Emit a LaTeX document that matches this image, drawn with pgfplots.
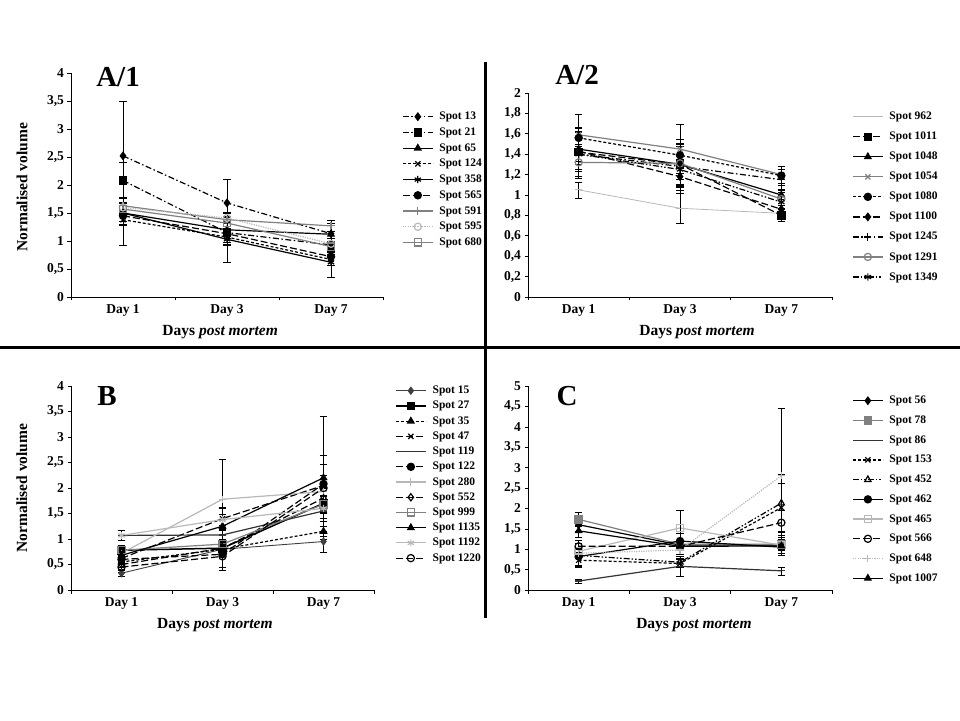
\documentclass[border=0pt]{standalone}
\usepackage{fontspec}
\setmainfont{Liberation Serif}
\usepackage{pgfplots}
\pgfplotsset{compat=1.18}

\definecolor{midgray}{gray}{0.5}
\definecolor{ltgray}{gray}{0.72}

\tikzset{
  ls dd/.style={dash pattern=on 6pt off 2.5pt on 1.5pt off 2.5pt},
  ls ddd/.style={dash pattern=on 6pt off 2pt on 1.5pt off 2pt on 1.5pt off 2pt},
  ls long/.style={dash pattern=on 7pt off 3pt},
  ls short/.style={dash pattern=on 3pt off 2pt},
  ls dot/.style={dash pattern=on 1.2pt off 1.2pt},
}

\pgfplotsset{
  panel/.style={
    scale only axis,
    axis lines=left,
    axis line style={-, black},
    xmin=0.5, xmax=3.5, ymin=0,
    xtick={0.5,1.5,2.5,3.5}, xticklabels={},
    extra x ticks={1,2,3},
    extra x tick labels={Day 1,Day 3,Day 7},
    extra x tick style={major tick length=0pt, grid=none, xticklabel style={yshift=-4pt}},
    tick align=outside,
    major tick length=3.5pt,
    tick style={black, line width=0.6pt},
    ticklabel style={font=\bfseries\fontsize{13.5}{13.5}\selectfont},
    /pgf/number format/assume math mode=true,
    yticklabel style={/pgf/number format/.cd, fixed, precision=1, use comma},
    label style={font=\bfseries\fontsize{15.5}{16}\selectfont},
    xlabel={Days \textit{post mortem}},
    legend cell align=left,
    legend style={draw=none, fill=none, inner sep=0pt, anchor=north west,
      font=\bfseries\fontsize{11.5}{11.5}\selectfont,
      /tikz/every odd column/.append style={column sep=4pt}},
    legend image code/.code={\draw[mark repeat=2,mark phase=2] plot coordinates {(0pt,0pt) (15pt,0pt) (30pt,0pt)};},
    every axis plot/.append style={line width=1.2pt, mark size=3.6pt, mark options={solid},
      error bars/y dir=both, error bars/y explicit,
      error bars/error bar style={black, solid, line width=0.9pt},
      error bars/error mark options={black, solid, mark size=3.8pt, rotate=90}},
  },
}

\begin{document}
\begin{tikzpicture}
\useasboundingbox (0pt,0pt) rectangle (960pt,720pt);

% ---------------- A/1
\begin{axis}[panel, at={(71pt,423pt)}, anchor=south west, width=312pt, height=224pt,
  ymax=4, ytick={0,0.5,1,1.5,2,2.5,3,3.5,4},
  ylabel={Normalised volume},
  ylabel style={at={(axis description cs:-0.157,0.49)}, anchor=center},
  xlabel style={at={(axis description cs:0.478,-0.156)}, anchor=center},
  legend style={at={(1.061,0.835)}, row sep=2.6pt}]
\addplot[black, ls dd, mark=diamond*] coordinates {(1,2.52) +- (0,0.98) (2,1.68) +- (0,0.42) (3,1.13) +- (0,0.16)};
\addlegendentry{Spot 13}
\addplot[black, ls dd, mark=square*] coordinates {(1,2.08) +- (0,0.32) (2,1.15) +- (0,0.20) (3,0.93) +- (0,0.12)};
\addlegendentry{Spot 21}
\addplot[black, mark=triangle*] coordinates {(1,1.50) +- (0,0.20) (2,1.20) +- (0,0.15) (3,1.12) +- (0,0.20)};
\addlegendentry{Spot 65}
\addplot[black, ls short, mark=x] coordinates {(1,1.38) +- (0,0.10) (2,1.07) +- (0,0.10) (3,0.67) +- (0,0.10)};
\addlegendentry{Spot 124}
\addplot[black, mark=asterisk] coordinates {(1,1.50) +- (0,0.57) (2,1.03) +- (0,0.41) (3,0.62) +- (0,0.27)};
\addlegendentry{Spot 358}
\addplot[black, ls long, mark=*] coordinates {(1,1.45) +- (0,0.10) (2,1.13) +- (0,0.20) (3,0.72) +- (0,0.15)};
\addlegendentry{Spot 565}
\addplot[midgray, mark=+] coordinates {(1,1.63) +- (0,0.15) (2,1.38) +- (0,0.12) (3,1.27) +- (0,0.10)};
\addlegendentry{Spot 591}
\addplot[ltgray, ls dot, mark=o] coordinates {(1,1.60) +- (0,0.10) (2,1.41) +- (0,0.10) (3,0.95) +- (0,0.10)};
\addlegendentry{Spot 595}
\addplot[midgray, mark=square] coordinates {(1,1.57) +- (0,0.10) (2,1.32) +- (0,0.10) (3,0.90) +- (0,0.10)};
\addlegendentry{Spot 680}
\end{axis}

% ---------------- A/2
\begin{axis}[panel, at={(528pt,423pt)}, anchor=south west, width=304pt, height=204pt,
  ymax=2, ytick={0,0.2,0.4,0.6,0.8,1,1.2,1.4,1.6,1.8,2},
  xlabel style={at={(axis description cs:0.556,-0.172)}, anchor=center},
  legend style={at={(1.066,0.917)}, row sep=6.9pt}]
\addplot[ltgray, line width=0.8pt, mark=-] coordinates {(1,1.05) +- (0,0.08) (2,0.87) +- (0,0.15) (3,0.82) +- (0,0.05)};
\addlegendentry{Spot 962}
\addplot[black, ls long, mark=square*] coordinates {(1,1.42) +- (0,0.24) (2,1.30) +- (0,0.25) (3,0.80) +- (0,0.06)};
\addlegendentry{Spot 1011}
\addplot[black, mark=triangle*] coordinates {(1,1.45) +- (0,0.20) (2,1.30) +- (0,0.20) (3,1.00) +- (0,0.10)};
\addlegendentry{Spot 1048}
\addplot[midgray, mark=x] coordinates {(1,1.59) +- (0,0.20) (2,1.45) +- (0,0.24) (3,1.20) +- (0,0.08)};
\addlegendentry{Spot 1054}
\addplot[black, ls short, mark=*] coordinates {(1,1.56) +- (0,0.23) (2,1.39) +- (0,0.30) (3,1.19) +- (0,0.09)};
\addlegendentry{Spot 1080}
\addplot[black, ls long, mark=diamond*] coordinates {(1,1.43) +- (0,0.20) (2,1.18) +- (0,0.16) (3,0.86) +- (0,0.10)};
\addlegendentry{Spot 1100}
\addplot[black, ls dd, mark=+] coordinates {(1,1.40) +- (0,0.22) (2,1.28) +- (0,0.20) (3,1.15) +- (0,0.10)};
\addlegendentry{Spot 1245}
\addplot[midgray, mark=o] coordinates {(1,1.32) +- (0,0.16) (2,1.31) +- (0,0.20) (3,0.96) +- (0,0.10)};
\addlegendentry{Spot 1291}
\addplot[black, ls ddd, mark=asterisk] coordinates {(1,1.40) +- (0,0.10) (2,1.25) +- (0,0.10) (3,0.93) +- (0,0.10)};
\addlegendentry{Spot 1349}
\end{axis}

% ---------------- B
\begin{axis}[panel, at={(71pt,130pt)}, anchor=south west, width=303pt, height=204pt,
  ymax=4, ytick={0,0.5,1,1.5,2,2.5,3,3.5,4},
  ylabel={Normalised volume},
  ylabel style={at={(axis description cs:-0.162,0.5)}, anchor=center},
  xlabel style={at={(axis description cs:0.475,-0.172)}, anchor=center},
  legend style={at={(1.069,1.01)}, row sep=2.1pt}]
\addplot[black!75, line width=0.9pt, mark=diamond*] coordinates {(1,0.33) +- (0,0.06) (2,0.80) +- (0,0.42) (3,0.95) +- (0,0.20)};
\addlegendentry{Spot 15}
\addplot[black, line width=1.5pt, mark=square*] coordinates {(1,0.78) +- (0,0.10) (2,0.82) +- (0,0.10) (3,1.70) +- (0,0.30)};
\addlegendentry{Spot 27}
\addplot[black, ls short, mark=triangle*] coordinates {(1,0.55) +- (0,0.10) (2,0.80) +- (0,0.10) (3,1.15) +- (0,0.10)};
\addlegendentry{Spot 35}
\addplot[black, ls long, mark=x] coordinates {(1,0.62) +- (0,0.10) (2,1.40) +- (0,0.20) (3,2.05) +- (0,0.20)};
\addlegendentry{Spot 47}
\addplot[black!80, mark=-] coordinates {(1,1.07) +- (0,0.10) (2,1.08) +- (0,0.10) (3,1.55) +- (0,0.20)};
\addlegendentry{Spot 119}
\addplot[black, ls long, mark=*] coordinates {(1,0.60) +- (0,0.10) (2,0.70) +- (0,0.25) (3,2.08) +- (0,0.57)};
\addlegendentry{Spot 122}
\addplot[ltgray, mark=+] coordinates {(1,0.72) +- (0,0.10) (2,1.78) +- (0,0.79) (3,1.93) +- (0,0.10)};
\addlegendentry{Spot 280}
\addplot[black, ls long, mark=diamond] coordinates {(1,0.50) +- (0,0.10) (2,0.82) +- (0,0.10) (3,1.80) +- (0,0.20)};
\addlegendentry{Spot 552}
\addplot[midgray, mark=square] coordinates {(1,0.78) +- (0,0.10) (2,0.90) +- (0,0.10) (3,1.68) +- (0,0.10)};
\addlegendentry{Spot 999}
\addplot[black, mark=triangle*] coordinates {(1,0.68) +- (0,0.10) (2,1.25) +- (0,0.37) (3,2.20) +- (0,1.20)};
\addlegendentry{Spot 1135}
\addplot[ltgray, mark=asterisk] coordinates {(1,1.07) +- (0,0.10) (2,1.38) +- (0,0.10) (3,1.60) +- (0,0.10)};
\addlegendentry{Spot 1192}
\addplot[black, ls long, mark=o] coordinates {(1,0.45) +- (0,0.10) (2,0.66) +- (0,0.28) (3,2.00) +- (0,0.47)};
\addlegendentry{Spot 1220}
\end{axis}

% ---------------- C
\begin{axis}[panel, at={(528pt,130pt)}, anchor=south west, width=304pt, height=204pt,
  ymax=5, ytick={0,0.5,1,1.5,2,2.5,3,3.5,4,4.5,5},
  xlabel style={at={(axis description cs:0.546,-0.172)}, anchor=center},
  legend style={at={(1.066,0.961)}, row sep=6.6pt}]
\addplot[black, mark=diamond*] coordinates {(1,1.60) +- (0,0.15) (2,1.10) +- (0,0.10) (3,1.10) +- (0,0.10)};
\addlegendentry{Spot 56}
\addplot[midgray, mark=square*] coordinates {(1,1.73) +- (0,0.17) (2,1.12) +- (0,0.10) (3,1.12) +- (0,0.10)};
\addlegendentry{Spot 78}
\addplot[black!80, mark=-] coordinates {(1,0.22) +- (0,0.05) (2,0.58) +- (0,0.25) (3,0.47) +- (0,0.10)};
\addlegendentry{Spot 86}
\addplot[black, ls short, mark=x] coordinates {(1,0.73) +- (0,0.15) (2,0.65) +- (0,0.10) (3,2.02) +- (0,0.60)};
\addlegendentry{Spot 153}
\addplot[black, ls ddd, mark=triangle] coordinates {(1,0.85) +- (0,0.30) (2,0.68) +- (0,0.10) (3,2.13) +- (0,0.70)};
\addlegendentry{Spot 452}
\addplot[black, mark=*] coordinates {(1,0.82) +- (0,0.20) (2,1.20) +- (0,0.20) (3,1.05) +- (0,0.20)};
\addlegendentry{Spot 462}
\addplot[ltgray, mark=square] coordinates {(1,0.95) +- (0,0.10) (2,1.52) +- (0,0.44) (3,1.10) +- (0,0.20)};
\addlegendentry{Spot 465}
\addplot[black, ls long, mark=o] coordinates {(1,1.07) +- (0,0.15) (2,1.07) +- (0,0.10) (3,1.65) +- (0,0.30)};
\addlegendentry{Spot 566}
\addplot[ltgray, ls dot, mark=+] coordinates {(1,0.90) +- (0,0.10) (2,0.98) +- (0,0.10) (3,2.80) +- (0,1.65)};
\addlegendentry{Spot 648}
\addplot[black, mark=triangle*] coordinates {(1,1.45) +- (0,0.15) (2,1.07) +- (0,0.10) (3,1.08) +- (0,0.10)};
\addlegendentry{Spot 1007}
\end{axis}

% panel titles and dividers
\node[font=\bfseries\fontsize{29}{29}\selectfont] at (118pt,643pt) {A/1};
\node[font=\bfseries\fontsize{29}{29}\selectfont] at (577pt,645pt) {A/2};
\node[font=\bfseries\fontsize{29}{29}\selectfont] at (107pt,324pt) {B};
\node[font=\bfseries\fontsize{29}{29}\selectfont] at (567pt,324pt) {C};
\draw[line width=2.5pt] (485.5pt,658pt) -- (485.5pt,102pt);
\draw[line width=2.5pt] (0pt,372.5pt) -- (960pt,372.5pt);
\end{tikzpicture}
\end{document}
